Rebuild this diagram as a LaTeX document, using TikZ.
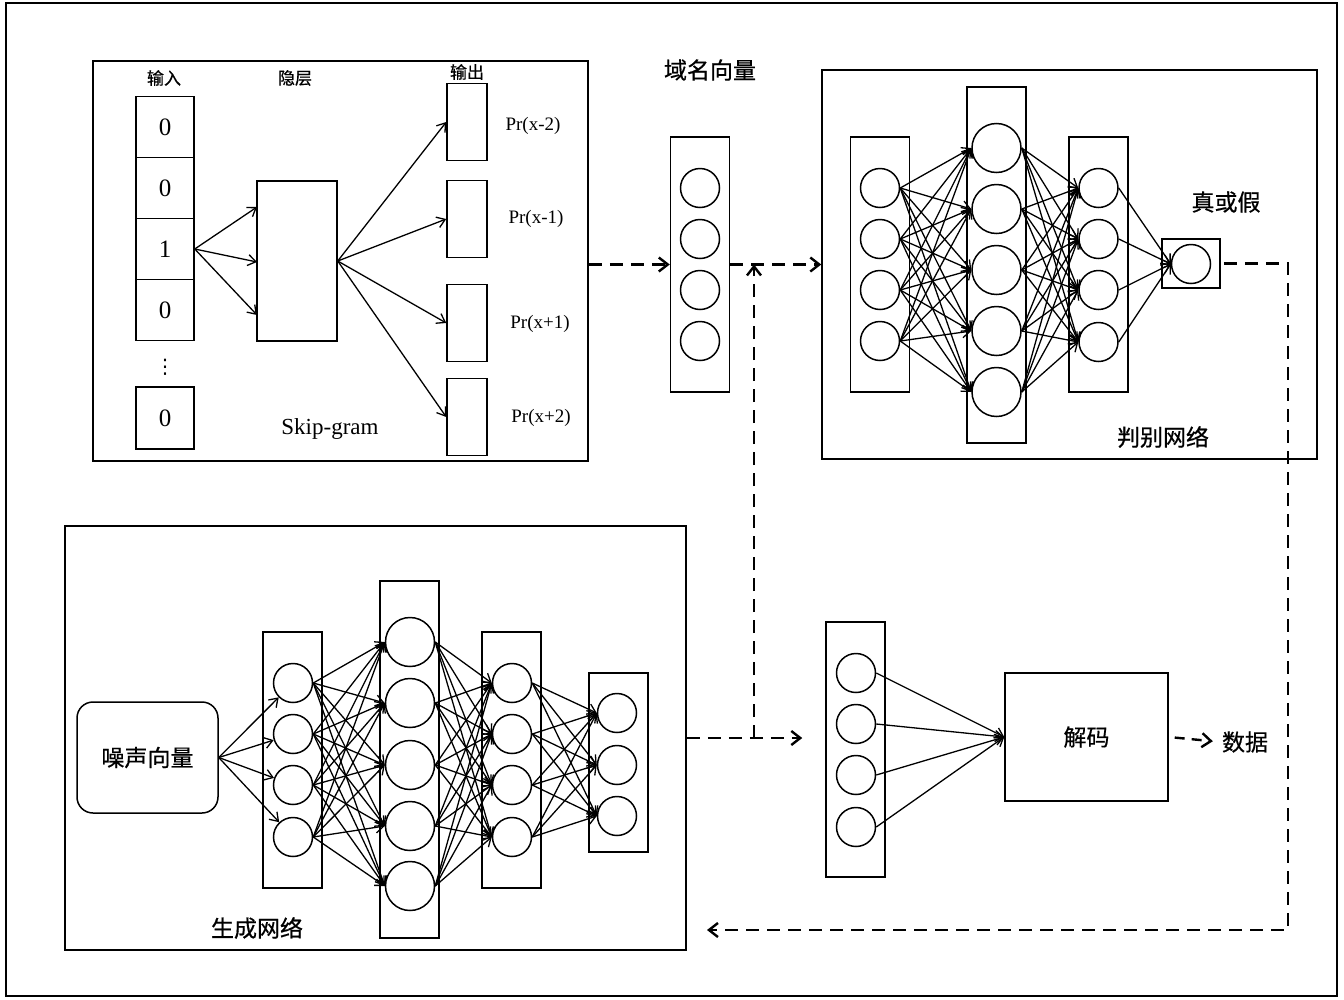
\documentclass[tikz,border=0pt]{standalone}
\usepackage{fontspec}
\setmainfont{Liberation Serif}
\newfontfamily\hei{Noto Sans CJK SC}[FakeBold=0.6]
\newfontfamily\dejavu{DejaVu Sans}
\usetikzlibrary{arrows.meta}

\tikzset{
  frame/.style={draw, line width=1.5pt, inner sep=0pt},
  layer/.style={draw, line width=1.5pt, inner sep=0pt, minimum width=59pt},
  cell/.style={draw, line width=1.5pt, inner sep=0pt, minimum width=58pt, minimum height=61pt, font=\fontsize{25}{28}\selectfont},
  outbox/.style={draw, line width=1.5pt, inner sep=0pt, minimum width=40pt, minimum height=77pt},
  neuron/.style={draw, circle, line width=1.5pt, inner sep=0pt, minimum size=39pt},
  bigneuron/.style={neuron, minimum size=49pt},
  conn/.style={line width=1.3pt, -{Straight Barb[length=8pt,width=11pt]}},
  dasharrow/.style={line width=2.4pt, dash pattern=on 13pt off 8pt, -{Straight Barb[length=9pt,width=14pt]}},
  cnbig/.style={inner sep=1pt, font=\hei\fontsize{23}{26}\selectfont},
  cnsmall/.style={inner sep=1pt, font=\hei\fontsize{17}{20}\selectfont},
  prlabel/.style={inner sep=1pt, font=\fontsize{19}{22}\selectfont},
}

\begin{document}
\begin{tikzpicture}[x=1pt,y=1pt,yscale=-1,xscale=1]
\useasboundingbox (0,0) rectangle (1344,999);

%Shape: Outer Frame
\draw [line width=1.5pt] (6,3) rectangle (1337,996);

%Shape: Skip-gram Frame
\node [frame, minimum width=495pt, minimum height=400pt] (sg) at (340.5,261) {};
% Input cells
\node [cell] (in1) at (165,127) {0};
\node [cell] (in2) at (165,188) {0};
\node [cell] (in3) at (165,249) {1};
\node [cell] (in4) at (165,310) {0};
\node [cell, minimum height=62pt] (in5) at (165,418) {0};
\node [inner sep=0pt, font=\dejavu\fontsize{20}{20}\selectfont] (dots) at (165,367) {⋮};
% Hidden layer
\node [frame, minimum width=80pt, minimum height=160pt] (hid) at (297,261) {};
\coordinate (h1) at (257,207);
\coordinate (h2) at (257,262);
\coordinate (h3) at (257,315);
% Output boxes
\node [outbox] (o1) at (467,122) {};
\node [outbox] (o2) at (467,219) {};
\node [outbox] (o3) at (467,323) {};
\node [outbox] (o4) at (467,417) {};
%Straight Lines
\draw [conn] (in3.east) -- (h1);
\draw [conn] (in3.east) -- (h2);
\draw [conn] (in3.east) -- (h3);
\draw [conn] (hid.east) -- (o1.west);
\draw [conn] (hid.east) -- (o2.west);
\draw [conn] (hid.east) -- (o3.west);
\draw [conn] (hid.east) -- (o4.west);
% Text Node
\node [cnsmall] (tin) at (164,78) {输入};
\node [cnsmall] (thid) at (295,78) {隐层};
\node [cnsmall] (tout) at (467,72) {输出};
\node [prlabel] (p1) at (533,126) {Pr(x-2)};
\node [prlabel] (p2) at (536,219) {Pr(x-1)};
\node [prlabel] (p3) at (540,324) {Pr(x+1)};
\node [prlabel] (p4) at (541,418) {Pr(x+2)};
\node [inner sep=1pt, font=\fontsize{23}{26}\selectfont] (tsg) at (330,429) {Skip-gram};

%Shape: Domain Vector
\node [layer, minimum height=255pt] (dv) at (700,264.5) {};
\node [neuron] (dv1) at (700,188) {};
\node [neuron] (dv2) at (700,239) {};
\node [neuron] (dv3) at (700,290) {};
\node [neuron] (dv4) at (700,341) {};
\node [cnbig] (tdv) at (710,70) {域名向量};

%Shape: Discriminator Frame
\node [frame, minimum width=495pt, minimum height=389pt] (disc) at (1069.5,264.5) {};
\node [layer, minimum height=255pt] (d1) at (880,264.5) {};
\node [neuron] (d1n1) at (880,188) {};
\node [neuron] (d1n2) at (880,239) {};
\node [neuron] (d1n3) at (880,290) {};
\node [neuron] (d1n4) at (880,341) {};
\node [layer, minimum height=356pt] (d2) at (996.5,265) {};
\node [bigneuron] (d2n1) at (996.5,148) {};
\node [bigneuron] (d2n2) at (996.5,209) {};
\node [bigneuron] (d2n3) at (996.5,270) {};
\node [bigneuron] (d2n4) at (996.5,331) {};
\node [bigneuron] (d2n5) at (996.5,392) {};
\node [layer, minimum height=255pt] (d3) at (1098.5,264.5) {};
\node [neuron] (d3n1) at (1098.5,188) {};
\node [neuron] (d3n2) at (1098.5,239) {};
\node [neuron] (d3n3) at (1098.5,290) {};
\node [neuron] (d3n4) at (1098.5,342) {};
\node [layer, minimum width=58pt, minimum height=49pt] (ob) at (1191,263.5) {};
\node [neuron] (on) at (1191,264) {};
%Straight Lines
\foreach \i in {1,...,4}{\foreach \j in {1,...,5}{\draw [conn] (d1n\i.east) -- (d2n\j.west);}}
\foreach \i in {1,...,5}{\foreach \j in {1,...,4}{\draw [conn] (d2n\i.east) -- (d3n\j.west);}}
\foreach \i in {1,...,4}{\draw [conn] (d3n\i.east) -- (on.west);}
% Text Node
\node [cnbig] (tro) at (1226,202) {真或假};
\node [cnbig] (tdisc) at (1163,437) {判别网络};

%Shape: Generator Frame
\node [frame, minimum width=621pt, minimum height=424pt] (gen) at (375.5,738) {};
\node [draw, line width=1.5pt, rounded corners=16pt, minimum width=141pt, minimum height=111pt, inner sep=0pt, font=\hei\fontsize{23}{26}\selectfont] (noise) at (147.5,757.5) {噪声向量};
\node [layer, minimum height=256pt] (g1) at (292.5,760) {};
\node [neuron] (g1n1) at (293,683) {};
\node [neuron] (g1n2) at (293,734) {};
\node [neuron] (g1n3) at (293,785) {};
\node [neuron] (g1n4) at (293,837) {};
\node [layer, minimum height=357pt] (g2) at (409.5,759.5) {};
\node [bigneuron] (g2n1) at (410,642) {};
\node [bigneuron] (g2n2) at (410,703) {};
\node [bigneuron] (g2n3) at (410,765) {};
\node [bigneuron] (g2n4) at (410,826) {};
\node [bigneuron] (g2n5) at (410,886) {};
\node [layer, minimum height=256pt] (g3) at (511.5,760) {};
\node [neuron] (g3n1) at (512,683) {};
\node [neuron] (g3n2) at (512,734) {};
\node [neuron] (g3n3) at (512,785) {};
\node [neuron] (g3n4) at (512,837) {};
\node [layer, minimum height=179pt] (g4) at (618.5,762.5) {};
\node [neuron] (g4n1) at (617,713) {};
\node [neuron] (g4n2) at (617,765) {};
\node [neuron] (g4n3) at (617,816) {};
%Straight Lines
\foreach \j in {1,...,4}{\draw [conn] (noise.east) -- (g1n\j);}
\foreach \i in {1,...,4}{\foreach \j in {1,...,5}{\draw [conn] (g1n\i.east) -- (g2n\j.west);}}
\foreach \i in {1,...,5}{\foreach \j in {1,...,4}{\draw [conn] (g2n\i.east) -- (g3n\j.west);}}
\foreach \i in {1,...,4}{\foreach \j in {1,...,3}{\draw [conn] (g3n\i.east) -- (g4n\j.west);}}
% Text Node
\node [cnbig] (tgen) at (257,928) {生成网络};

%Shape: Decoder
\node [layer, minimum height=255pt] (dl) at (855.5,749.5) {};
\node [neuron] (dl1) at (856,673) {};
\node [neuron] (dl2) at (856,724) {};
\node [neuron] (dl3) at (856,775) {};
\node [neuron] (dl4) at (856,827) {};
\node [draw, line width=1.5pt, inner sep=0pt, minimum width=163pt, minimum height=128pt, font=\hei\fontsize{23}{26}\selectfont] (dcode) at (1086.5,737) {解码};
\node [cnbig] (tdata) at (1245,742) {数据};
\foreach \i in {1,...,4}{\draw [conn] (dl\i.east) -- (dcode.west);}

%Dashed Lines
\coordinate (jtop) at (754,264.5);
\coordinate (jbot) at (754,738);
\coordinate (fb1) at (1288,263.5);
\coordinate (fb2) at (1288,930);
\coordinate (fb3) at (707,930);
\draw [dasharrow] (sg.east |- dv.west) -- (dv.west);
\draw [dasharrow] (dv.east) -- (disc.west);
\draw [dasharrow, shorten >=23pt] (gen.east) -- (gen.east -| dl.west);
\draw [dasharrow] (jbot) -- (jtop);
\draw [dasharrow, shorten <=3pt] (ob.east) -- (fb1) -- (fb2) -- (fb3);
\draw [dasharrow, dash pattern=on 10pt off 7pt, shorten <=6pt, shorten >=8pt] (dcode.east) -- (tdata.west);

\end{tikzpicture}
\end{document}
